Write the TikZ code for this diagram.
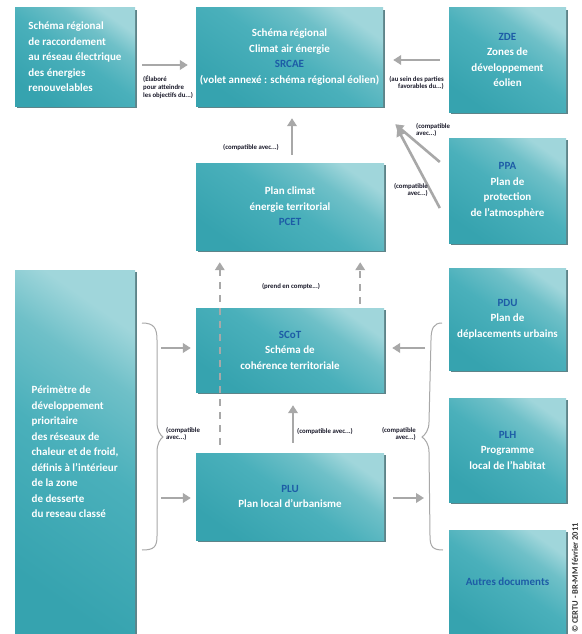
\documentclass[tikz,border=0pt]{standalone}
\usepackage{fontspec}
\setmainfont{Carlito}
\usetikzlibrary{arrows.meta,shadows,calc}
\definecolor{tealD}{HTML}{36A3AF}
\definecolor{tealM}{HTML}{4AB0BB}
\definecolor{tealX}{HTML}{6FC0C8}
\definecolor{tealL}{HTML}{A0D6DB}
\definecolor{acr}{HTML}{1D5CA6}
\definecolor{arrg}{HTML}{A8A8A8}
\definecolor{lbl}{HTML}{1A1A2A}
\pgfdeclareverticalshading{boxsh}{100bp}{color(0bp)=(tealD); color(25bp)=(tealD); color(50bp)=(tealM); color(65bp)=(tealX); color(75bp)=(tealL); color(100bp)=(tealL)}
\tikzset{
  box/.style={draw=none, shade, shading=boxsh, shading angle=-35,
    drop shadow={shadow xshift=1.6pt, shadow yshift=-1.6pt, fill=tealD!50!black, opacity=0.7},
    text=white, font=\fontsize{11}{15.5}\selectfont\bfseries, inner sep=0pt, align=center},
  arr/.style={draw=arrg, line width=2.6pt, -{Triangle[width=9.5pt,length=8pt]}},
  darr/.style={arr, line width=2pt, dash pattern=on 7pt off 6pt},
  brk/.style={draw=arrg, line width=1pt},
  lab/.style={font=\fontsize{6.8}{7.6}\selectfont\bfseries, text=lbl, inner sep=0pt},
}
\newcommand{\acr}[1]{{\bfseries\color{acr}#1}}
\begin{document}
\begin{tikzpicture}[x=1pt,y=-1pt]
\fill[white] (0,0) rectangle (581,634);
\useasboundingbox (0,0) rectangle (581,634);

% boxes
\node[box, minimum width=120pt, minimum height=98pt, align=left] (rac) at (75,57)
  {Schéma régional\\de raccordement\\au réseau électrique\\des énergies\\renouvelables};
\node[box, minimum width=187pt, minimum height=98pt] (srcae) at (289.5,57)
  {Schéma régional\\Climat air énergie\\\acr{SRCAE}\\(volet annexé : schéma régional éolien)};
\node[box, minimum width=117pt, minimum height=104pt] (zde) at (507.5,60)
  {\acr{ZDE}\\Zones de\\développement\\éolien};
\node[box, minimum width=117pt, minimum height=105pt] (ppa) at (507.5,190.5)
  {\acr{PPA}\\Plan de\\protection\\de l'atmosphère};
\node[box, minimum width=188pt, minimum height=87pt] (pcet) at (290,206.5)
  {Plan climat\\énergie territorial\\\acr{PCET}};
\node[box, minimum width=117pt, minimum height=102pt] (pdu) at (507.5,319)
  {\acr{PDU}\\Plan de\\déplacements urbains};
\node[box, minimum width=188pt, minimum height=84pt] (scot) at (290,350)
  {\acr{SCoT}\\Schéma de\\cohérence territoriale};
\node[box, minimum width=117pt, minimum height=104pt] (plh) at (507.5,450)
  {\acr{PLH}\\Programme\\local de l'habitat};
\node[box, minimum width=188pt, minimum height=87pt] (plu) at (290,496.5)
  {\acr{PLU}\\Plan local d'urbanisme};
\node[box, minimum width=117pt, minimum height=104pt] (autres) at (507.5,582)
  {\acr{Autres documents}};
\node[box, minimum width=120pt, minimum height=364pt, align=left] (peri) at (75,452)
  {Périmètre de\\développement\\prioritaire\\des réseaux de\\chaleur et de froid,\\définis à l'intérieur\\de la zone\\de desserte\\du reseau classé};

% brackets
\draw[brk] (142,323) .. controls (154,323) and (157,328) .. (157,340) -- (157,422)
  .. controls (157,430) and (160,435) .. (163,437) .. controls (160,439) and (157,444) .. (157,452)
  -- (157,536) .. controls (157,547) and (154,550) .. (142,550);
\draw[brk] (442,323) .. controls (434,323) and (431,328) .. (431,340) -- (429,422)
  .. controls (429,430) and (425,435) .. (422,437) .. controls (425,439) and (429,444) .. (429,452)
  -- (430,536) .. controls (430,547) and (433,550) .. (443,550);

\coordinate (lb1) at (161,348);
\coordinate (lb2) at (161,498);
\coordinate (rb1) at (425,348);
\coordinate (rb2) at (424,498);

% connectors
\draw[arr] ($(rac.east)+(7,8)$) -- ($(srcae.west)+(-8,8)$);
\draw[arr] ($(zde.west)+(-9,0)$) -- ($(srcae.east)+(10,3)$);
\draw[arr] ($(ppa.west)+(-9,-28.5)$) -- ($(srcae.south east)+(12,18)$);
\draw[arr] ($(ppa.west)+(-9,17.5)$) -- ($(srcae.south east)+(14,22)$);
\draw[arr] ($(pcet.north)+(2,-8)$) -- ($(srcae.south)+(2.5,12)$);
\draw[darr] ($(plu.north west)+(24,-8)$) -- ($(pcet.south west)+(24,12)$);
\draw[darr] ($(scot.north east)+(-24,-4)$) -- ($(pcet.south east)+(-24,12)$);
\draw[arr] (lb1) -- ($(scot.west)+(-5,-2)$);
\draw[arr] (rb1) -- ($(scot.east)+(8,-2)$);
\draw[arr] (lb2) -- ($(plu.west)+(-5,1.5)$);
\draw[arr] ($(plu.east)+(9,1.5)$) -- (rb2);
\draw[arr] ($(plu.north)+(3,-10)$) -- ($(scot.south)+(3,13)$);

% labels
\node[lab, anchor=north west, align=left] (lA) at (143,76) {(Élaboré\\pour atteindre\\les objectifs du...)};
\node[lab, anchor=north east, align=right] (lZ) at (444,76) {(au sein des parties\\favorables du...)};
\node[lab, anchor=north west, align=left] (lP1) at (416,123) {(compatible\\avec...)};
\node[lab, anchor=north east, align=right] (lP2) at (428,183) {(compatible\\avec...)};
\node[lab] (lPC) at (251,148) {(compatible avec...)};
\node[lab] (lPR) at (291,287) {(prend en compte...)};
\node[lab, anchor=west] (lPU) at (297,432) {(compatible avec...)};
\node[lab, anchor=north east, align=right] (lR) at (416,427) {(compatible\\avec...)};
\node[lab, anchor=north west, align=left] (lL) at (166,427) {(compatible\\avec...)};

\node[rotate=90, font=\fontsize{8.5}{9}\selectfont\bfseries, text=black!80, inner sep=0pt] (copy) at (575,578) {© CERTU - BR-MM février 2011};
\end{tikzpicture}
\end{document}
